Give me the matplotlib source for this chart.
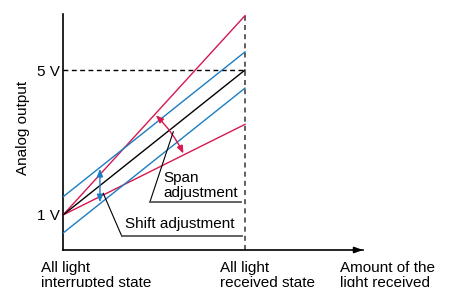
import matplotlib
matplotlib.use("Agg")
import matplotlib.pyplot as plt
import numpy as np

plt.rcParams['font.family'] = ['Liberation Sans', 'DejaVu Sans']

# ---- data ----
x_span = [0.0, 1.0]                      # all light interrupted -> all light received
black_line = [1.0, 5.0]                  # nominal output (V)
blue_upper = [1.5, 5.5]                  # shifted up
blue_lower = [0.5, 4.5]                  # shifted down
red_upper = [1.0, 6.5]                   # span increased
red_lower = [1.0, 3.5]                   # span decreased
ytick_vals = [1.0, 5.0]
ytick_labels = ["1 V", "5 V"]
x_labels = ["All light\ninterrupted state", "All light\nreceived state", "Amount of the\nlight received"]
x_label_pos = [-0.121, 0.863, 1.522]
y_label = "Analog output"
shift_text = "Shift adjustment"
span_text = ["Span", "adjustment"]

RED = "#d6184f"
BLUE = "#1c7cc2"

fig = plt.figure(figsize=(4.5, 2.87), dpi=100)
W, H = 450, 287
ax = fig.add_axes([63 / W, 37 / H, (363 - 63) / W, (250 - 14) / H])
ax.set_xlim(0, 300 / 182)
ax.set_ylim(1 - 35 / 36.25, 1 + 201 / 36.25)

for s in ["top", "right"]:
    ax.spines[s].set_visible(False)
for s in ["left", "bottom"]:
    ax.spines[s].set_linewidth(1.2)
ax.set_xticks([])
ax.set_yticks(ytick_vals)
ax.set_yticklabels(ytick_labels, fontsize=11)
ax.tick_params(axis='y', length=0, pad=2)

# arrow head of x axis
ax.annotate("", xy=(300 / 182, ax.get_ylim()[0]), xytext=(300 / 182 - 0.05, ax.get_ylim()[0]),
            arrowprops=dict(arrowstyle="-|>,head_length=0.5,head_width=0.18", color="black", lw=1.2,
                            shrinkA=0, shrinkB=0), annotation_clip=False)

lw = 1.0
ax.plot(x_span, red_upper, color=RED, lw=lw, zorder=3)
ax.plot(x_span, red_lower, color=RED, lw=lw, zorder=3)
ax.plot(x_span, blue_upper, color=BLUE, lw=lw, zorder=3)
ax.plot(x_span, blue_lower, color=BLUE, lw=lw, zorder=3)
ax.plot(x_span, black_line, color="black", lw=lw, zorder=3)

# dashed guides
ax.plot([0, 1], [5, 5], color="black", lw=1.0, ls=(0, (3.5, 2.5)), zorder=2)
ax.plot([1, 1], [ax.get_ylim()[0], red_upper[1]], color="#444444", lw=1.2, ls=(0, (3, 2.5)), zorder=2)

# shift adjustment arrow (vertical, blue)
xs = 0.203
ax.annotate("", xy=(xs, blue_upper[0] + (blue_upper[1] - blue_upper[0]) * xs),
            xytext=(xs, blue_lower[0] + (blue_lower[1] - blue_lower[0]) * xs),
            arrowprops=dict(arrowstyle="<|-|>,head_length=0.45,head_width=0.18", color=BLUE, lw=1.0,
                            shrinkA=1, shrinkB=1), zorder=4)

# span adjustment arrow (arc, red)
xa, xb = 0.505, 0.665
ax.annotate("", xy=(xb, red_lower[0] + (red_lower[1] - red_lower[0]) * xb),
            xytext=(xa, red_upper[0] + (red_upper[1] - red_upper[0]) * xa),
            arrowprops=dict(arrowstyle="<|-|>,head_length=0.45,head_width=0.18", color=RED, lw=1.0,
                            connectionstyle="arc3,rad=-0.09", shrinkA=1, shrinkB=1), zorder=4)

# leader lines
ax.plot([0.221, 0.3225], [1.599, 0.4207], color="black", lw=0.8, zorder=4)
ax.plot([0.3225, 0.9835], [0.4207, 0.4207], color="#555555", lw=1.3, zorder=4)
ax.plot([0.606, 0.478], [3.298, 1.367], color="black", lw=0.8, zorder=4)
ax.plot([0.478, 0.978], [1.367, 1.367], color="#555555", lw=1.3, zorder=4)

ax.text(0.341, 0.628, shift_text, fontsize=11, ha="left", va="baseline")
ax.text(0.549, 1 + (215 - 181.7) / 36.25, span_text[0], fontsize=11, ha="left", va="baseline")
ax.text(0.549, 1 + (215 - 196.7) / 36.25, span_text[1], fontsize=11, ha="left", va="baseline")

# y label
ax.text(-0.22, 3.4, y_label, fontsize=11, rotation=90, ha="center", va="center", clip_on=False)

# x labels
for lab, xp in zip(x_labels, x_label_pos):
    lines = lab.split("\n")
    for i, ln in enumerate(lines):
        ax.text(xp, -0.559 - 0.414 * i, ln, fontsize=11, ha="left", va="baseline", clip_on=False)

fig.savefig("out.png", dpi=100)
